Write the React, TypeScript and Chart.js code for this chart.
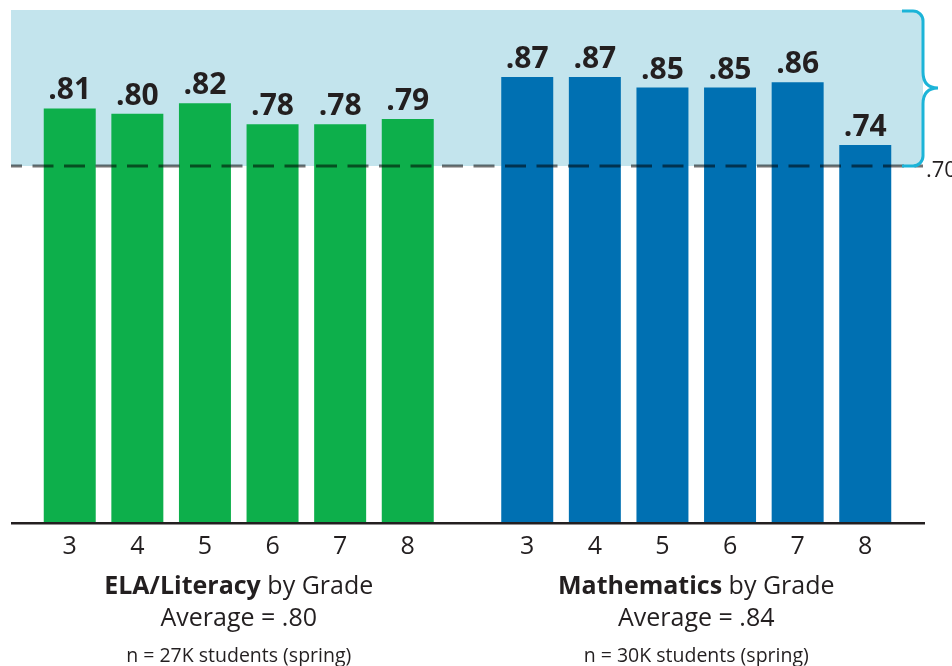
import React, { useEffect, useRef } from "react";
import { Chart, registerables } from "chart.js";

Chart.register(...registerables);

const grades = ["3", "4", "5", "6", "7", "8"];
const groupNames = ["ELA/Literacy", "Mathematics"];
const elaValues = [0.81, 0.8, 0.82, 0.78, 0.78, 0.79];
const mathValues = [0.87, 0.87, 0.85, 0.85, 0.86, 0.74];
const averages = [".80", ".84"];
const sampleNotes = ["n = 27K students (spring)", "n = 30K students (spring)"];
const threshold = 0.7;
const thresholdLabel = ".70";

const GREEN = "#0daf4b";
const BLUE = "#0070b2";
const TEXT = "#231f20";
const SHADE = "#c3e4ed";
const CYAN = "#1cb4d8";
const FONT = "'Open Sans', 'Noto Sans', sans-serif";

const fmt = (v: number) => v.toFixed(2).replace(/^0/, "");

const decor = {
  id: "decor",
  beforeDatasetsDraw(chart: any) {
    const { ctx, chartArea, scales } = chart;
    const y = scales.y;
    const top = y.getPixelForValue(y.max) + 1;
    const yT = y.getPixelForValue(threshold);
    const bx = chartArea.right - 2;
    ctx.save();
    ctx.fillStyle = SHADE;
    ctx.beginPath();
    ctx.roundRect(chartArea.left + 1, top, bx - chartArea.left - 1, yT - top, [0, 10, 10, 0]);
    ctx.fill();
    ctx.restore();
  },
  afterDatasetsDraw(chart: any) {
    const { ctx, chartArea, scales } = chart;
    const y = scales.y;
    const x = scales.x;
    const top = y.getPixelForValue(y.max) + 1;
    const yT = y.getPixelForValue(threshold);
    const bx = chartArea.right - 2;
    ctx.save();

    // dashed threshold line
    ctx.strokeStyle = "rgba(0,0,0,0.55)";
    ctx.lineWidth = 3;
    ctx.setLineDash([21, 10.5]);
    ctx.lineDashOffset = 10;
    ctx.beginPath();
    ctx.moveTo(chartArea.left + 1, yT);
    ctx.lineTo(bx, yT);
    ctx.stroke();
    ctx.setLineDash([]);

    // bracket
    const mid = (top + yT) / 2;
    const r = 10;
    ctx.strokeStyle = CYAN;
    ctx.lineWidth = 3;
    ctx.beginPath();
    ctx.moveTo(bx - 21, top + 1);
    ctx.lineTo(bx - r, top + 1);
    ctx.arcTo(bx, top + 1, bx, top + 1 + r, r);
    ctx.lineTo(bx, mid - 16);
    ctx.quadraticCurveTo(bx, mid, bx + 15, mid);
    ctx.quadraticCurveTo(bx, mid, bx, mid + 16);
    ctx.lineTo(bx, yT - r);
    ctx.arcTo(bx, yT, bx - r, yT, r);
    ctx.lineTo(bx - 21, yT);
    ctx.stroke();

    // threshold label
    ctx.fillStyle = TEXT;
    ctx.font = `22px ${FONT}`;
    ctx.textAlign = "left";
    ctx.textBaseline = "alphabetic";
    ctx.fillText(thresholdLabel, bx + 3, yT + 11);

    // axis line
    ctx.strokeStyle = TEXT;
    ctx.lineWidth = 2.5;
    ctx.beginPath();
    ctx.moveTo(chartArea.left + 1, chartArea.bottom + 1.2);
    ctx.lineTo(chartArea.right, chartArea.bottom + 1.2);
    ctx.stroke();

    // value labels and grade ticks
    chart.data.datasets.forEach((ds: any, i: number) => {
      const meta = chart.getDatasetMeta(i);
      meta.data.forEach((bar: any, j: number) => {
        ctx.fillStyle = TEXT;
        ctx.textAlign = "center";
        ctx.font = `bold 30px ${FONT}`;
        ctx.fillText(fmt(ds.data[j]), bar.x, bar.y - 9);
        ctx.font = `25px ${FONT}`;
        ctx.fillText(ds.label, bar.x, chartArea.bottom + 32);
      });
    });

    // group titles
    groupNames.forEach((name, j) => {
      const cx = x.getPixelForValue(j);
      const by = chartArea.bottom + 72;
      const fs = 25;
      ctx.font = `bold ${fs}px ${FONT}`;
      const w1 = ctx.measureText(name).width;
      ctx.font = `${fs}px ${FONT}`;
      const rest = " by Grade";
      const w2 = ctx.measureText(rest).width;
      const start = cx - (w1 + w2) / 2;
      ctx.textAlign = "left";
      ctx.font = `bold ${fs}px ${FONT}`;
      ctx.fillText(name, start, by);
      ctx.font = `${fs}px ${FONT}`;
      ctx.fillText(rest, start + w1, by);
      ctx.textAlign = "center";
      ctx.fillText(`Average = ${averages[j]}`, cx, chartArea.bottom + 104);
      ctx.font = `19.5px ${FONT}`;
      ctx.fillText(sampleNotes[j], cx, chartArea.bottom + 140);
    });
    ctx.restore();
  },
};

export default function App() {
  const ref = useRef<HTMLCanvasElement>(null);
  useEffect(() => {
    if (!ref.current) return;
    const chart = new Chart(ref.current, {
      type: "bar",
      data: {
        labels: groupNames,
        datasets: grades.map((g, i) => ({
          label: g,
          data: [elaValues[i], mathValues[i]],
          backgroundColor: [GREEN, BLUE],
          borderWidth: 0,
          categoryPercentage: 0.8866,
          barPercentage: 0.769,
        })),
      },
      options: {
        responsive: false,
        animation: false,
        devicePixelRatio: 1,
        layout: { padding: { left: 10, right: 27, top: 9, bottom: 144 } },
        plugins: { legend: { display: false }, tooltip: { enabled: false }, title: { display: false } },
        scales: {
          x: { display: false, offset: true },
          y: { display: false, min: 0.02, max: 1.0 },
        },
      },
      plugins: [decor],
    });
    return () => chart.destroy();
  }, []);
  return (
    <div style={{ position: "absolute", left: 0, top: 0, width: 952, height: 666, background: "#fff" }}>
      <canvas ref={ref} width={952} height={666} style={{ display: "block" }} />
    </div>
  );
}
